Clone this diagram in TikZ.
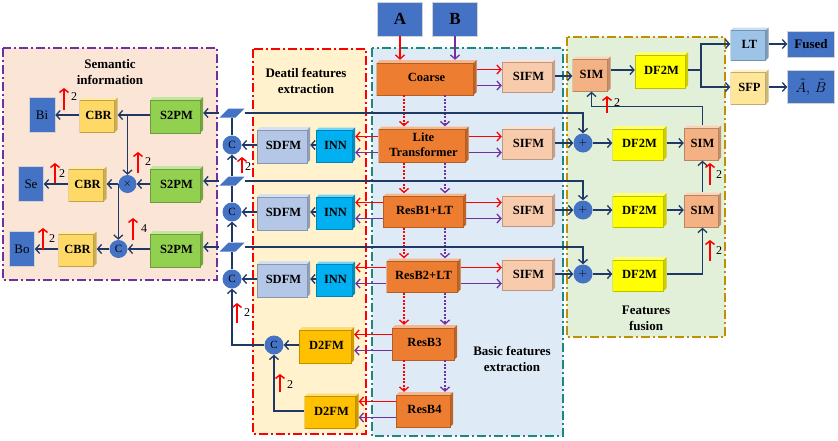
\documentclass[tikz,border=0pt]{standalone}
\usepackage{fontspec}
\setmainfont{Liberation Serif}
\usetikzlibrary{arrows.meta,calc}
\definecolor{navy}{HTML}{203864}
\definecolor{rd}{HTML}{FF0000}
\definecolor{pu}{HTML}{7030A0}
\definecolor{bl}{HTML}{4472C4}
\definecolor{orng}{HTML}{ED7D31}
\definecolor{sifmc}{HTML}{F8CBAD}
\definecolor{simc}{HTML}{F4B183}
\definecolor{ylw}{HTML}{FFFF00}
\definecolor{cbrc}{HTML}{FFD966}
\definecolor{grn}{HTML}{92D050}
\definecolor{innc}{HTML}{00B0F0}
\definecolor{sdfmc}{HTML}{B4C7E7}
\definecolor{dfmc}{HTML}{FFC000}
\definecolor{ltc}{HTML}{9DC3E6}
\definecolor{sfpc}{HTML}{FFE699}
\definecolor{semf}{HTML}{FBE5D6}
\definecolor{detf}{HTML}{FFF2CC}
\definecolor{basf}{HTML}{DEEBF7}
\definecolor{fusf}{HTML}{E2F0D9}
\definecolor{teal2}{HTML}{1B8A7E}
\definecolor{gold2}{HTML}{BF9000}
\begin{document}
\begin{tikzpicture}[x=1pt,y=-1pt,
  cube/.style={rectangle, inner sep=0pt, align=center,
    font=\fontsize{12.5}{15}\selectfont\bfseries,
    path picture={
      \fill[#1!55!white] ([yshift=-3pt]path picture bounding box.north west) -- ([xshift=3pt]path picture bounding box.north west) -- (path picture bounding box.north east) -- ([shift={(-3pt,-3pt)}]path picture bounding box.north east) -- cycle;
      \fill[#1!80!black] ([shift={(-3pt,-3pt)}]path picture bounding box.north east) -- (path picture bounding box.north east) -- ([yshift=3pt]path picture bounding box.south east) -- ([xshift=-3pt]path picture bounding box.south east) -- cycle;
      \fill[#1] ([yshift=-3pt]path picture bounding box.north west) rectangle ([xshift=-3pt]path picture bounding box.south east);
      \draw[#1!75!black, line width=0.3pt] ([yshift=-3pt]path picture bounding box.north west) rectangle ([xshift=-3pt]path picture bounding box.south east);
    }},
  flatb/.style={rectangle, fill=bl, draw=white!65!gray, line width=0.6pt, inner sep=0pt},
  circ/.style={circle, fill=bl, inner sep=0pt, minimum size=19pt, font=\fontsize{11}{11}\selectfont},
  para/.style={rectangle, inner sep=0pt, minimum width=25pt, minimum height=9pt,
    path picture={
      \fill[bl] (path picture bounding box.south west) -- ([xshift=-9pt]path picture bounding box.south east) -- (path picture bounding box.north east) -- ([xshift=9pt]path picture bounding box.north west) -- cycle;
    }},
  conn/.style={draw=navy, line width=1.3pt, -{Straight Barb[length=4pt,width=9pt]}},
  plain/.style={draw=navy, line width=1.3pt},
  rarr/.style={draw=rd, line width=1.3pt, -{Straight Barb[length=4pt,width=9pt]}},
  parr/.style={draw=pu, line width=1.3pt, -{Straight Barb[length=4pt,width=9pt]}},
  rdot/.style={rarr, dash pattern=on 2pt off 1.5pt},
  pdot/.style={parr, dash pattern=on 2pt off 1.5pt},
  upm/.style={draw=rd, line width=1.5pt, -{Straight Barb[length=3.5pt,width=9pt]}},
  num/.style={inner sep=0pt, font=\fontsize{12}{12}\selectfont},
  ttl/.style={align=center, inner sep=0pt, font=\fontsize{13}{16}\selectfont\bfseries},
  frm/.style={line width=1.3pt, dash pattern=on 9pt off 3pt on 2pt off 3pt}]
\useasboundingbox (0,0) rectangle (838,440);
% frames
\fill[semf] (3,48) rectangle (217,280);
\fill[detf] (253,49) rectangle (366,434);
\fill[basf] (372,48) rectangle (563,436);
\fill[fusf] (567,37) rectangle (725,337);
\draw[frm, pu] (3,48) rectangle (217,280);
\draw[frm, rd] (253,49) rectangle (366,434);
\draw[frm, teal2] (372,48) rectangle (563,436);
\draw[frm, gold2] (567,37) rectangle (725,337);
% titles
\node[ttl] (tsem) at (110,72) {Semantic\\information};
\node[ttl] (tdet) at (306,81) {Deatil features\\extraction};
\node[ttl] (tbas) at (512,359) {Basic features\\extraction};
\node[ttl] (tfus) at (646,318) {Features\\fusion};
% basic
\node[flatb, minimum width=45pt, minimum height=34pt, font=\fontsize{17}{17}\selectfont\bfseries] (A) at (400,19) {A};
\node[flatb, minimum width=45pt, minimum height=34pt, font=\fontsize{17}{17}\selectfont\bfseries] (B) at (455,19) {B};
\node[cube=orng, minimum width=100pt, minimum height=35pt] (coarse) at (426.5,77.5) {Coarse};
\node[cube=orng, minimum width=90pt, minimum height=36pt] (lite) at (423.5,144.5) {Lite\\Transformer};
\node[cube=orng, minimum width=83pt, minimum height=34pt] (rb1) at (424.5,210.5) {ResB1+LT};
\node[cube=orng, minimum width=74pt, minimum height=34pt] (rb2) at (423.5,275.5) {ResB2+LT};
\node[cube=orng, minimum width=65pt, minimum height=35pt] (rb3) at (424.5,342.5) {ResB3};
\node[cube=orng, minimum width=57pt, minimum height=35pt] (rb4) at (424.5,409.5) {ResB4};
\node[cube=sifmc, minimum width=53pt, minimum height=33pt] (sifm1) at (528.5,76) {SIFM};
\node[cube=sifmc, minimum width=53pt, minimum height=33pt] (sifm2) at (528.5,143) {SIFM};
\node[cube=sifmc, minimum width=53pt, minimum height=33pt] (sifm3) at (528.5,210) {SIFM};
\node[cube=sifmc, minimum width=53pt, minimum height=33pt] (sifm4) at (528.5,274) {SIFM};
\coordinate (redx) at (404,0);
\coordinate (purx) at (445,0);
% detail
\node[cube=innc, minimum width=39pt, minimum height=35pt] (inn1) at (335.5,145) {INN};
\node[cube=innc, minimum width=39pt, minimum height=35pt] (inn2) at (335.5,212) {INN};
\node[cube=innc, minimum width=39pt, minimum height=35pt] (inn3) at (335.5,279) {INN};
\node[cube=sdfmc, minimum width=53pt, minimum height=36pt] (sdfm1) at (283.5,145) {SDFM};
\node[cube=sdfmc, minimum width=53pt, minimum height=36pt] (sdfm2) at (283.5,212) {SDFM};
\node[cube=sdfmc, minimum width=53pt, minimum height=36pt] (sdfm3) at (283.5,279) {SDFM};
\node[circ] (c1) at (232,145) {C};
\node[circ] (c2) at (232,212) {C};
\node[circ] (c3) at (232,279) {C};
\node[para] (p1) at (232,113) {};
\node[para] (p2) at (232,181) {};
\node[para] (p3) at (232,247) {};
\node[circ] (c4) at (274,345) {C};
\node[cube=dfmc, minimum width=55pt, minimum height=36pt] (d2fm1) at (326.5,345) {D2FM};
\node[cube=dfmc, minimum width=54pt, minimum height=35pt] (d2fm2) at (331.5,411) {D2FM};
% semantic
\node[cube=grn, minimum width=53pt, minimum height=36pt] (s2pm1) at (176.5,115) {S2PM};
\node[cube=grn, minimum width=53pt, minimum height=36pt] (s2pm2) at (176.5,184) {S2PM};
\node[cube=grn, minimum width=53pt, minimum height=36pt] (s2pm3) at (176.5,249) {S2PM};
\node[cube=cbrc, minimum width=38pt, minimum height=35pt] (cbr1) at (98.5,115) {CBR};
\node[cube=cbrc, minimum width=38pt, minimum height=35pt] (cbr2) at (87.5,184) {CBR};
\node[cube=cbrc, minimum width=38pt, minimum height=35pt] (cbr3) at (77.5,249) {CBR};
\node[flatb, minimum width=26pt, minimum height=35pt, font=\fontsize{13}{13}\selectfont] (bi) at (42,115) {Bi};
\node[flatb, minimum width=25pt, minimum height=35pt, font=\fontsize{13}{13}\selectfont] (se) at (31,184) {Se};
\node[flatb, minimum width=25pt, minimum height=35pt, font=\fontsize{13}{13}\selectfont] (bo) at (22,249) {Bo};
\node[circ, minimum size=18pt] (mul) at (127.5,184) {$\times$};
\node[circ, minimum size=18pt] (cs) at (118.5,249) {C};
% fusion
\node[cube=simc, minimum width=38pt, minimum height=35pt] (sim1) at (591.5,74) {SIM};
\node[cube=ylw, minimum width=53pt, minimum height=36pt] (dfm1) at (661.5,70) {DF2M};
\coordinate (sp) at (701,70);
\node[cube=ltc, minimum width=38pt, minimum height=33pt] (ltout) at (749.5,44) {LT};
\node[cube=sfpc, minimum width=38pt, minimum height=35pt] (sfp) at (749.5,87) {SFP};
\node[flatb, minimum width=47pt, minimum height=26pt, font=\fontsize{13}{13}\selectfont\bfseries] (fused) at (811,44) {Fused};
\node[flatb, minimum width=47pt, minimum height=33pt, font=\fontsize{15}{15}\selectfont] (ab) at (811,87) {$\tilde{A},\,\tilde{B}$};
\node[circ] (plus1) at (583,143) {$+$};
\node[circ] (plus2) at (583,210) {$+$};
\node[circ] (plus3) at (583,274) {$+$};
\node[cube=ylw, minimum width=54pt, minimum height=34pt] (dfm2) at (639.5,143) {DF2M};
\node[cube=ylw, minimum width=54pt, minimum height=34pt] (dfm3) at (639.5,210) {DF2M};
\node[cube=ylw, minimum width=54pt, minimum height=34pt] (dfm4) at (639.5,274) {DF2M};
\node[cube=simc, minimum width=37pt, minimum height=35pt] (sim2) at (702.5,143) {SIM};
\node[cube=simc, minimum width=37pt, minimum height=35pt] (sim3) at (702.5,210) {SIM};
% ---- connectors: basic
\draw[rarr] (A.south) -- (A.south |- coarse.north);
\draw[parr] (B.south) -- (B.south |- coarse.north);
\foreach \u/\v in {coarse/lite, lite/rb1, rb1/rb2, rb2/rb3, rb3/rb4}{
  \draw[rdot] (\u.south -| redx) -- (\v.north -| redx);
  \draw[pdot] (\u.south -| purx) -- (\v.north -| purx);
}
\foreach \u/\v in {coarse/sifm1, lite/sifm2, rb1/sifm3, rb2/sifm4}{
  \draw[rarr] ($(\u.east)+(0,-8)$) -- ($(\v.west |- \u.east)+(0,-8)$);
  \draw[parr] ($(\u.east)+(0,8)$) -- ($(\v.west |- \u.east)+(0,8)$);
}
\foreach \u/\v in {lite/inn1, rb1/inn2, rb2/inn3, rb3/d2fm1, rb4/d2fm2}{
  \draw[rarr] ($(\u.west)+(0,-8)$) -- ($(\v.east |- \u.west)+(0,-8)$);
  \draw[parr] ($(\u.west)+(0,8)$) -- ($(\v.east |- \u.west)+(0,8)$);
}
% detail
\draw[conn] (inn1.west) -- (sdfm1.east);
\draw[conn] (inn2.west) -- (sdfm2.east);
\draw[conn] (inn3.west) -- (sdfm3.east);
\draw[conn] (sdfm1.west) -- (c1.east);
\draw[conn] (sdfm2.west) -- (c2.east);
\draw[conn] (sdfm3.west) -- (c3.east);
\draw[conn] (d2fm1.west) -- (c4.east);
\draw[conn] (d2fm2.west) -| (c4.south);
\draw[conn] (c4.west) -| (c3.south);
\draw[plain] (c1) -- (p1);
\draw[plain] (c2) -- (p2);
\draw[conn] (p2) -- (c1);
\draw[plain] (c3) -- (p3);
\draw[conn] (p3) -- (c2);
% buses
\draw[conn] (p1.west) -- (p1.west -| s2pm1.east);
\draw[conn] (p2.west) -- (p2.west -| s2pm2.east);
\draw[conn] (p3.west) -- (p3.west -| s2pm3.east);
\draw[conn] (p1.east) -| (plus1.north);
\draw[conn] (p2.east) -| (plus2.north);
\draw[conn] (p3.east) -| (plus3.north);
% semantic
\draw[conn] (s2pm1.west) -- (cbr1.east);
\draw[conn] (cbr1.west) -- (bi.east);
\draw[conn] (mul.north |- s2pm1.west) -- (mul.north);
\draw[conn] (s2pm2.west) -- (mul.east);
\draw[conn] (mul.west) -- (cbr2.east);
\draw[conn] (cbr2.west) -- (se.east);
\draw[conn] (mul.west) -- (mul.west |- cs.north);
\draw[conn] (s2pm3.west) -- (cs.east);
\draw[conn] (cs.west) -- (cbr3.east);
\draw[conn] (cbr3.west) -- (bo.east);
% fusion
\draw[conn] (sifm1.east) -- (sifm1.east -| sim1.west);
\draw[conn] (sim1.east |- dfm1.west) -- (dfm1.west);
\draw[plain] (dfm1.east) -- (sp);
\draw[conn] (sp) |- (ltout.west);
\draw[conn] (sp) |- (sfp.west);
\draw[conn] (ltout.east) -- (fused.west);
\draw[conn] (sfp.east) -- (ab.west);
\draw[conn] (sifm2.east) -- (plus1.west);
\draw[conn] (sifm3.east) -- (plus2.west);
\draw[conn] (sifm4.east) -- (plus3.west);
\draw[conn] (plus1.east) -- (dfm2.west);
\draw[conn] (plus2.east) -- (dfm3.west);
\draw[conn] (plus3.east) -- (dfm4.west);
\draw[conn] (dfm2.east) -- (sim2.west);
\draw[conn] (dfm3.east) -- (sim3.west);
\draw[conn] (dfm4.east) -| (sim3.south);
\draw[conn] (sim3.north) -- (sim2.south);
\draw[conn] (sim2.north) |- ([yshift=-15pt]sim1.south) -- (sim1.south);
% upsampling marks
\draw[upm] (64,110) -- (64,88);   \node[num] (n1) at (74,97) {2};
\draw[upm] (55,183) -- (55,163);  \node[num] (n2) at (62,174) {2};
\draw[upm] (43,250) -- (43,228);  \node[num] (n3) at (52,239) {2};
\draw[upm] (138,173) -- (138,152); \node[num] (n4) at (148,162) {2};
\draw[upm] (133,240) -- (133,218); \node[num] (n5) at (144,229) {4};
\draw[upm] (242,173) -- (242,157); \node[num] (n6) at (248,167) {2};
\draw[upm] (237,323) -- (237,303); \node[num] (n7) at (247,313) {2};
\draw[upm] (280,392) -- (280,374); \node[num] (n8) at (290,385) {2};
\draw[upm] (607,113) -- (607,96);  \node[num] (n9) at (617,103) {2};
\draw[upm] (710,185) -- (710,163); \node[num] (n10) at (719,175) {2};
\draw[upm] (710,261) -- (710,240); \node[num] (n11) at (719,251) {2};
\end{tikzpicture}
\end{document}
